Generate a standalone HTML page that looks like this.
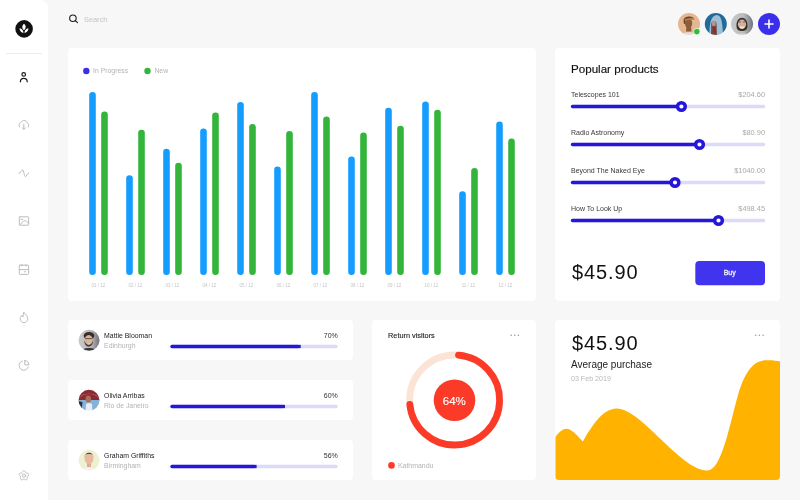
<!DOCTYPE html>
<html><head><meta charset="utf-8">
<style>
*{margin:0;padding:0;box-sizing:border-box}
html,body{width:800px;height:500px;overflow:hidden;background:#f7f7f7;font-family:"Liberation Sans",sans-serif}
.a{position:absolute;left:0;top:0}
.t{position:absolute;line-height:1;white-space:nowrap;will-change:transform}
.card{position:absolute;background:#fff;border-radius:4px}
</style></head><body>
<div class="a" style="width:48px;height:500px;background:#fff;border-top-right-radius:8px"></div>
<div class="a" style="left:6px;top:52.5px;width:36px;height:1px;background:#ececec"></div>
<div class="card" style="left:68.0px;top:48.0px;width:468.0px;height:252.5px"></div>
<div class="card" style="left:554.5px;top:48.0px;width:225.7px;height:252.5px"></div>
<div class="card" style="left:68.0px;top:320.0px;width:285.0px;height:40.0px"></div>
<div class="card" style="left:68.0px;top:380.0px;width:285.0px;height:40.0px"></div>
<div class="card" style="left:68.0px;top:440.0px;width:285.0px;height:40.0px"></div>
<div class="card" style="left:372.0px;top:320.0px;width:164.0px;height:160.0px"></div>
<svg class="a" width="800" height="500" viewBox="0 0 800 500"><defs><clipPath id="av0"><circle cx="689.0" cy="24.0" r="11.0"/></clipPath><clipPath id="av1"><circle cx="715.8" cy="24.0" r="11.0"/></clipPath><clipPath id="av2"><circle cx="742.0" cy="24.0" r="11.0"/></clipPath><clipPath id="av3"><circle cx="89.0" cy="340.3" r="10.5"/></clipPath><clipPath id="av4"><circle cx="89.0" cy="400.3" r="10.5"/></clipPath><clipPath id="av5"><circle cx="89.0" cy="460.3" r="10.5"/></clipPath><filter id="bl" x="-20%" y="-20%" width="140%" height="140%"><feGaussianBlur stdDeviation="0.7"/></filter><linearGradient id="g3" x1="0" x2="1" y1="0" y2="0"><stop offset="0" stop-color="#c6c9cc"/><stop offset="0.55" stop-color="#b8bcc0"/><stop offset="1" stop-color="#5c646c"/></linearGradient><linearGradient id="g4" x1="0" x2="1" y1="0" y2="0"><stop offset="0" stop-color="#cacacd"/><stop offset="0.6" stop-color="#b8b8bc"/><stop offset="1" stop-color="#6c6c72"/></linearGradient></defs><circle cx="24.1" cy="28.9" r="8.8" fill="#111"/><path fill="#fff" d="M24.00 23.80 C21.75 25.40 21.75 28.60 24.00 30.20 C26.25 28.60 26.25 25.40 24.00 23.80 Z M23.40 32.90 C23.66 30.75 21.76 28.45 19.60 28.30 C19.34 30.45 21.24 32.75 23.40 32.90 Z M24.60 32.90 C26.76 32.75 28.66 30.45 28.40 28.30 C26.24 28.45 24.34 30.75 24.60 32.90 Z"/><g fill="none" stroke="#1a1a1a" stroke-width="1.2" stroke-linecap="round"><circle cx="23.7" cy="74.4" r="1.8"/><path d="M20.4 81.8 C20.4 79.6 22 78.4 23.8 78.4 C25.6 78.4 27.2 79.6 27.2 81.8"/></g><g fill="none" stroke="#bdbdbd" stroke-width="1" stroke-linecap="round" stroke-linejoin="round"><path d="M19.4 127 C18.6 124.5 19.8 122.3 21.4 122.1 C22 120.8 23 120.4 24 120.4 C25.6 120.4 26.6 121.5 26.9 122.6 C28.4 123 29.2 125 28.4 127"/><path d="M23.8 124.2 L23.8 129.2 M22.3 127.8 L23.8 129.3 L25.3 127.8"/><path d="M19 173.4 C20.6 173.6 21.4 169.6 22.6 169.8 C23.8 170 24.2 176.6 25.4 176.6 C26.6 176.6 27.2 173.2 28.6 173"/><rect x="19.3" y="216.8" width="9.3" height="8.4" rx="0.6"/><path d="M20 224.6 L23.4 221.3 C24.3 220.5 25.6 220.5 26.5 221.3 L28.6 223.4 M20.9 219.4 L22.6 219.4"/><rect x="19.3" y="265.2" width="9.3" height="9.2" rx="0.8"/><path d="M19.3 269.6 L28.6 269.6 M22 264.2 L22 266 M26 264.2 L26 266 M24.3 271.8 L25.6 271.8"/><path d="M23.8 312.6 C25.8 314.2 27.8 316.2 27.8 318.8 C27.8 321 26 322.6 24 322.6 C21.8 322.6 20.2 321 20.2 318.8 C20.2 317.3 20.9 316.2 21.8 315.4 C22 316.3 22.5 316.8 23.1 316.9 C23 315.4 23.2 313.8 23.8 312.6 Z"/><path d="M22.3 361 C20.3 361.7 19.2 363.5 19.2 365.6 C19.2 368.3 21.3 370.2 23.8 370.2 C25.9 370.2 27.6 368.8 28.2 367"/><path d="M24.8 360.6 L24.8 364.8 L29 364.8 C29 362.5 27.2 360.6 24.8 360.6 Z"/><path d="M28.10 475.60 L27.80 475.91 L27.52 476.17 L27.31 476.42 L27.18 476.67 L27.14 476.94 L27.17 477.27 L27.24 477.64 L27.30 478.07 L27.31 478.51 L27.24 478.94 L27.08 479.32 L26.81 479.60 L26.46 479.77 L26.05 479.81 L25.62 479.75 L25.20 479.59 L24.81 479.40 L24.47 479.22 L24.18 479.10 L23.90 479.05 L23.62 479.10 L23.33 479.22 L22.99 479.40 L22.60 479.59 L22.18 479.75 L21.75 479.81 L21.34 479.77 L20.99 479.60 L20.72 479.32 L20.56 478.94 L20.49 478.51 L20.50 478.07 L20.56 477.64 L20.63 477.27 L20.66 476.94 L20.62 476.67 L20.49 476.42 L20.28 476.17 L20.00 475.91 L19.70 475.60 L19.43 475.25 L19.23 474.86 L19.14 474.46 L19.19 474.07 L19.38 473.73 L19.69 473.45 L20.07 473.26 L20.50 473.13 L20.92 473.06 L21.31 473.01 L21.62 472.93 L21.87 472.81 L22.07 472.61 L22.23 472.33 L22.40 471.98 L22.60 471.61 L22.85 471.24 L23.16 470.93 L23.52 470.72 L23.90 470.65 L24.28 470.72 L24.64 470.93 L24.95 471.24 L25.20 471.61 L25.40 471.98 L25.57 472.33 L25.73 472.61 L25.93 472.81 L26.18 472.93 L26.49 473.01 L26.88 473.06 L27.30 473.13 L27.73 473.26 L28.11 473.45 L28.42 473.73 L28.61 474.07 L28.66 474.46 L28.57 474.86 L28.37 475.25Z"/><circle cx="23.9" cy="475.6" r="1.6"/></g><circle cx="72.9" cy="18.2" r="3.25" fill="none" stroke="#1a1a1a" stroke-width="1.1"/><line x1="75.3" y1="20.6" x2="77.5" y2="22.7" stroke="#1a1a1a" stroke-width="1.1" stroke-linecap="round"/><g clip-path="url(#av0)"><g filter="url(#bl)"><rect x="676" y="11" width="26" height="26" fill="#e4b691"/><path d="M679 37 C680 30.8 698 30.8 699 37 Z" fill="#e2dcd8"/><path d="M686.5 27 L691 27 L691.5 31.5 L686 31.5 Z" fill="#8a5a38"/><ellipse cx="688.6" cy="23.2" rx="3.6" ry="5.2" fill="#8e5c38"/><path d="M683.6 20.5 C683.2 15.5 694.2 15 694 19.5 L692.5 19 C690 18.5 687 18.5 685.5 19.5 L685 24 L683.8 23.5 Z" fill="#6a4222"/><path d="M684.5 19 L693.5 17.5 L694.5 19.5 L685 20.5 Z" fill="#b08050"/></g></g><circle cx="696.8" cy="31.6" r="3.3" fill="#2fbd3a" stroke="#fff" stroke-width="0.8"/><g clip-path="url(#av1)"><g filter="url(#bl)"><rect x="704" y="12" width="24" height="24" fill="#226a98"/><path d="M709.5 37 C709 26 710.5 15.5 716.5 15 C722 15 722.5 24 723 37 Z" fill="#9fbfd6"/><path d="M711 37 L711.2 24 C711.5 20.5 716 20 716.5 23.5 L717 37 Z" fill="#6e4a44"/><ellipse cx="713.8" cy="23.5" rx="2" ry="2.8" fill="#c49080"/><path d="M713 27 L715.5 27 L716 33 L713.5 33 Z" fill="#8a2e2a"/></g></g><g clip-path="url(#av2)"><g filter="url(#bl)"><rect x="730" y="12" width="25" height="24" fill="url(#g3)"/><path d="M735 37 C736 32 748 32 749 37 Z" fill="#d8d0cc"/><path d="M736.5 26 C736 15 748 15 747.5 26 C747.5 30 745 31 742 31 C739 31 736.5 30 736.5 26 Z" fill="#3e2e24"/><ellipse cx="742" cy="24.2" rx="4.1" ry="4.6" fill="#cfb3a0"/><path d="M739.3 26.6 C740 29.5 744 29.5 744.7 26.6 Z" fill="#f0e8e2"/><path d="M738.5 22 L741 22 M743 22 L745.5 22" stroke="#5a4438" stroke-width="0.8"/></g></g><circle cx="769" cy="24" r="11" fill="#3b2fe9"/><path d="M765 24 L773 24 M769 20 L769 28" stroke="#fff" stroke-width="1.6" stroke-linecap="round"/><g clip-path="url(#av3)"><g filter="url(#bl)"><rect x="78" y="329" width="22" height="23" fill="url(#g4)"/><ellipse cx="89" cy="352" rx="9" ry="4" fill="#34343a"/><ellipse cx="89" cy="335.8" rx="5.3" ry="3.8" fill="#3a2d26"/><ellipse cx="88.7" cy="340.5" rx="4.3" ry="5.4" fill="#d2b6a2"/><path d="M84.4 340.5 C84.2 348.5 93.2 348.5 93 340.5 L92.2 342.2 C91.2 345.2 86.2 345.2 85.2 342.2 Z" fill="#4a3a30"/><ellipse cx="88.8" cy="344" rx="1.6" ry="0.6" fill="#efe6de"/><rect x="85" y="338.2" width="7.5" height="0.9" fill="#5a463a"/></g></g><g clip-path="url(#av4)"><g filter="url(#bl)"><rect x="78" y="389" width="22" height="23" fill="#86b2d8"/><rect x="78" y="389" width="22" height="11" fill="#8a2b33"/><path d="M80 398 C82 392.5 96 392.5 98 398 L97 396 C94 393 84 393 81 396 Z" fill="#e4988a"/><ellipse cx="88.3" cy="399" rx="2.8" ry="3.6" fill="#a86e5c"/><path d="M85.5 412 L86 404 C88 402.5 90 402.5 92 404 L92.5 412 Z" fill="#e6edf4"/><path d="M78 401 L82.5 402 L81.5 411 L78 411 Z" fill="#22324a"/></g></g><g clip-path="url(#av5)"><g filter="url(#bl)"><rect x="78" y="449" width="22" height="23" fill="#eef0d2"/><path d="M81 472 C82 466 96 466 97 472 Z" fill="#f7f2f0"/><rect x="87" y="463" width="4" height="4" fill="#e0ab94"/><ellipse cx="89" cy="458.6" rx="4.4" ry="5.6" fill="#e9b8a0"/><path d="M84.4 457.5 C84 451 94 451 93.6 457.5 L93 455 C91 453.6 87 453.6 85 455 Z" fill="#5e4432"/></g></g><g stroke-width="6.6" stroke-linecap="round"><line x1="92.5" y1="95.2" x2="92.5" y2="271.7" stroke="#149dff"/><line x1="104.5" y1="114.7" x2="104.5" y2="271.7" stroke="#33b53b"/><line x1="129.5" y1="178.5" x2="129.5" y2="271.7" stroke="#149dff"/><line x1="141.5" y1="133.1" x2="141.5" y2="271.7" stroke="#33b53b"/><line x1="166.5" y1="152.1" x2="166.5" y2="271.7" stroke="#149dff"/><line x1="178.5" y1="166.1" x2="178.5" y2="271.7" stroke="#33b53b"/><line x1="203.5" y1="131.8" x2="203.5" y2="271.7" stroke="#149dff"/><line x1="215.5" y1="115.8" x2="215.5" y2="271.7" stroke="#33b53b"/><line x1="240.5" y1="105.3" x2="240.5" y2="271.7" stroke="#149dff"/><line x1="252.5" y1="127.3" x2="252.5" y2="271.7" stroke="#33b53b"/><line x1="277.5" y1="169.7" x2="277.5" y2="271.7" stroke="#149dff"/><line x1="289.5" y1="134.3" x2="289.5" y2="271.7" stroke="#33b53b"/><line x1="314.5" y1="95.2" x2="314.5" y2="271.7" stroke="#149dff"/><line x1="326.5" y1="119.9" x2="326.5" y2="271.7" stroke="#33b53b"/><line x1="351.5" y1="159.8" x2="351.5" y2="271.7" stroke="#149dff"/><line x1="363.5" y1="135.9" x2="363.5" y2="271.7" stroke="#33b53b"/><line x1="388.5" y1="111.1" x2="388.5" y2="271.7" stroke="#149dff"/><line x1="400.5" y1="129.0" x2="400.5" y2="271.7" stroke="#33b53b"/><line x1="425.5" y1="104.8" x2="425.5" y2="271.7" stroke="#149dff"/><line x1="437.5" y1="113.1" x2="437.5" y2="271.7" stroke="#33b53b"/><line x1="462.5" y1="194.5" x2="462.5" y2="271.7" stroke="#149dff"/><line x1="474.5" y1="171.3" x2="474.5" y2="271.7" stroke="#33b53b"/><line x1="499.5" y1="124.9" x2="499.5" y2="271.7" stroke="#149dff"/><line x1="511.5" y1="141.9" x2="511.5" y2="271.7" stroke="#33b53b"/></g><circle cx="86.3" cy="71" r="3.2" fill="#3a2ee6"/><circle cx="147.5" cy="71" r="3.2" fill="#33b53b"/><line x1="572.5" y1="106.5" x2="763.5" y2="106.5" stroke="#dcd9fb" stroke-width="3.5" stroke-linecap="round"/><line x1="572.5" y1="106.5" x2="681.4" y2="106.5" stroke="#2516d9" stroke-width="3.3" stroke-linecap="round"/><circle cx="681.4" cy="106.5" r="3.85" fill="#fff" stroke="#2516d9" stroke-width="3.5"/><line x1="572.5" y1="144.5" x2="763.5" y2="144.5" stroke="#dcd9fb" stroke-width="3.5" stroke-linecap="round"/><line x1="572.5" y1="144.5" x2="699.5" y2="144.5" stroke="#2516d9" stroke-width="3.3" stroke-linecap="round"/><circle cx="699.5" cy="144.5" r="3.85" fill="#fff" stroke="#2516d9" stroke-width="3.5"/><line x1="572.5" y1="182.5" x2="763.5" y2="182.5" stroke="#dcd9fb" stroke-width="3.5" stroke-linecap="round"/><line x1="572.5" y1="182.5" x2="675.0" y2="182.5" stroke="#2516d9" stroke-width="3.3" stroke-linecap="round"/><circle cx="675.0" cy="182.5" r="3.85" fill="#fff" stroke="#2516d9" stroke-width="3.5"/><line x1="572.5" y1="220.5" x2="763.5" y2="220.5" stroke="#dcd9fb" stroke-width="3.5" stroke-linecap="round"/><line x1="572.5" y1="220.5" x2="718.5" y2="220.5" stroke="#2516d9" stroke-width="3.3" stroke-linecap="round"/><circle cx="718.5" cy="220.5" r="3.85" fill="#fff" stroke="#2516d9" stroke-width="3.5"/><rect x="695.3" y="261" width="69.7" height="24.2" rx="4" fill="#4134ee"/><line x1="172" y1="346.5" x2="336" y2="346.5" stroke="#dcd9fb" stroke-width="3.3" stroke-linecap="round"/><line x1="172" y1="346.5" x2="297.7" y2="346.5" stroke="#2516d9" stroke-width="3.3" stroke-linecap="round"/><rect x="297.7" y="344.85" width="3" height="3.3" fill="#2516d9"/><line x1="172" y1="406.5" x2="336" y2="406.5" stroke="#dcd9fb" stroke-width="3.3" stroke-linecap="round"/><line x1="172" y1="406.5" x2="282.0" y2="406.5" stroke="#2516d9" stroke-width="3.3" stroke-linecap="round"/><rect x="282.0" y="404.85" width="3" height="3.3" fill="#2516d9"/><line x1="172" y1="466.5" x2="336" y2="466.5" stroke="#dcd9fb" stroke-width="3.3" stroke-linecap="round"/><line x1="172" y1="466.5" x2="253.6" y2="466.5" stroke="#2516d9" stroke-width="3.3" stroke-linecap="round"/><rect x="253.6" y="464.85" width="3" height="3.3" fill="#2516d9"/><circle cx="454.6" cy="400" r="45" fill="none" stroke="#fbe4d6" stroke-width="6.8"/><path d="M458.52 355.17 A45 45 0 1 1 409.81 404.31" fill="none" stroke="#fb3b28" stroke-width="6.8" stroke-linecap="round"/><circle cx="454.5" cy="400.2" r="20.8" fill="#fb3b28"/><circle cx="391.5" cy="465.4" r="3.3" fill="#fb3b28"/><g fill="#9a9a9a"><circle cx="511.2" cy="335.2" r="0.8"/><circle cx="514.8" cy="335.2" r="0.8"/><circle cx="518.4" cy="335.2" r="0.8"/></g></svg>
<div class="a" style="left:554.5px;top:320px;width:225.5px;height:160px;border-radius:4px;overflow:hidden;background:#fff"><svg width="225.5" height="160" viewBox="554.5 320 225.5 160" style="display:block"><path d="M555 437 C560 430 565 427 570 430 C575 433 579 438 582.4 441.5 C592 425 602 409 616 408.5 C640 408 680 470 706.5 470.6 C721 471 729 425 737.5 395 C746 366 756 360.3 766 360.3 C772 360 777 361 780 361.4 L780 480 L555 480 Z" fill="#ffb200"/><g fill="#9a9a9a"><circle cx="755.2" cy="335.2" r="0.8"/><circle cx="758.9" cy="335.2" r="0.8"/><circle cx="762.6" cy="335.2" r="0.8"/></g></svg></div>
<svg class="a" width="800" height="500" style="font-family:&quot;Liberation Sans&quot;,sans-serif;will-change:transform">
<text x="84.00" y="21.90" font-size="7.35" fill="#c4c4c4" text-anchor="start">Search</text>
<text x="93.10" y="73.00" font-size="6.85" fill="#b3b3b3" text-anchor="start">In Progress</text>
<text x="154.40" y="73.00" font-size="6.85" fill="#b3b3b3" text-anchor="start">New</text>
<text x="98.40" y="287.00" font-size="4.50" fill="#c4c4c4" text-anchor="middle">01 / 12</text>
<text x="135.40" y="287.00" font-size="4.50" fill="#c4c4c4" text-anchor="middle">02 / 12</text>
<text x="172.40" y="287.00" font-size="4.50" fill="#c4c4c4" text-anchor="middle">03 / 12</text>
<text x="209.40" y="287.00" font-size="4.50" fill="#c4c4c4" text-anchor="middle">04 / 12</text>
<text x="246.40" y="287.00" font-size="4.50" fill="#c4c4c4" text-anchor="middle">05 / 12</text>
<text x="283.40" y="287.00" font-size="4.50" fill="#c4c4c4" text-anchor="middle">06 / 12</text>
<text x="320.40" y="287.00" font-size="4.50" fill="#c4c4c4" text-anchor="middle">07 / 12</text>
<text x="357.40" y="287.00" font-size="4.50" fill="#c4c4c4" text-anchor="middle">08 / 12</text>
<text x="394.40" y="287.00" font-size="4.50" fill="#c4c4c4" text-anchor="middle">09 / 12</text>
<text x="431.40" y="287.00" font-size="4.50" fill="#c4c4c4" text-anchor="middle">10 / 12</text>
<text x="468.40" y="287.00" font-size="4.50" fill="#c4c4c4" text-anchor="middle">11 / 12</text>
<text x="505.40" y="287.00" font-size="4.50" fill="#c4c4c4" text-anchor="middle">12 / 12</text>
<text x="571.00" y="73.30" font-size="11.60" fill="#111" text-anchor="start" stroke="#111" stroke-width="0.15">Popular products</text>
<text x="571.00" y="97.20" font-size="7.00" fill="#383838" text-anchor="start">Telescopes 101</text>
<text x="765.00" y="97.20" font-size="7.40" fill="#a9a9a9" text-anchor="end">$204.60</text>
<text x="571.00" y="135.20" font-size="7.00" fill="#383838" text-anchor="start">Radio Astronomy</text>
<text x="765.00" y="135.20" font-size="7.40" fill="#a9a9a9" text-anchor="end">$80.90</text>
<text x="571.00" y="173.20" font-size="7.00" fill="#383838" text-anchor="start">Beyond The Naked Eye</text>
<text x="765.00" y="173.20" font-size="7.40" fill="#a9a9a9" text-anchor="end">$1040.00</text>
<text x="571.00" y="211.20" font-size="7.00" fill="#383838" text-anchor="start">How To Look Up</text>
<text x="765.00" y="211.20" font-size="7.40" fill="#a9a9a9" text-anchor="end">$498.45</text>
<text x="572.00" y="279.00" font-size="20.00" fill="#111" text-anchor="start" letter-spacing="0.9">$45.90</text>
<text x="729.70" y="275.30" font-size="7.00" fill="#f0eeff" text-anchor="middle" stroke="#f0eeff" stroke-width="0.3">Buy</text>
<text x="104.10" y="337.60" font-size="6.90" fill="#222" text-anchor="start">Mattie Blooman</text>
<text x="104.10" y="347.65" font-size="6.90" fill="#b3b3b3" text-anchor="start">Edinburgh</text>
<text x="337.80" y="337.75" font-size="7.00" fill="#333" text-anchor="end">70%</text>
<text x="104.10" y="397.60" font-size="6.90" fill="#222" text-anchor="start">Olivia Arribas</text>
<text x="104.10" y="407.65" font-size="6.90" fill="#b3b3b3" text-anchor="start">Rio de Janeiro</text>
<text x="337.80" y="397.75" font-size="7.00" fill="#333" text-anchor="end">60%</text>
<text x="104.10" y="457.60" font-size="6.90" fill="#222" text-anchor="start">Graham Griffiths</text>
<text x="104.10" y="467.65" font-size="6.90" fill="#b3b3b3" text-anchor="start">Birmingham</text>
<text x="337.80" y="457.75" font-size="7.00" fill="#333" text-anchor="end">56%</text>
<text x="388.10" y="338.40" font-size="7.30" fill="#222" text-anchor="start" stroke="#222" stroke-width="0.12">Return visitors</text>
<text x="454.30" y="404.80" font-size="11.50" fill="#fff" text-anchor="middle" stroke="#fff" stroke-width="0.12">64%</text>
<text x="397.90" y="467.60" font-size="6.96" fill="#b3b3b3" text-anchor="start">Kathmandu</text>
<text x="571.90" y="350.25" font-size="20.00" fill="#111" text-anchor="start" letter-spacing="0.9">$45.90</text>
<text x="571.00" y="368.10" font-size="10.00" fill="#222" text-anchor="start">Average purchase</text>
<text x="571.00" y="381.00" font-size="7.10" fill="#b8b8b8" text-anchor="start">03 Feb 2019</text>
</svg>
</body></html>
